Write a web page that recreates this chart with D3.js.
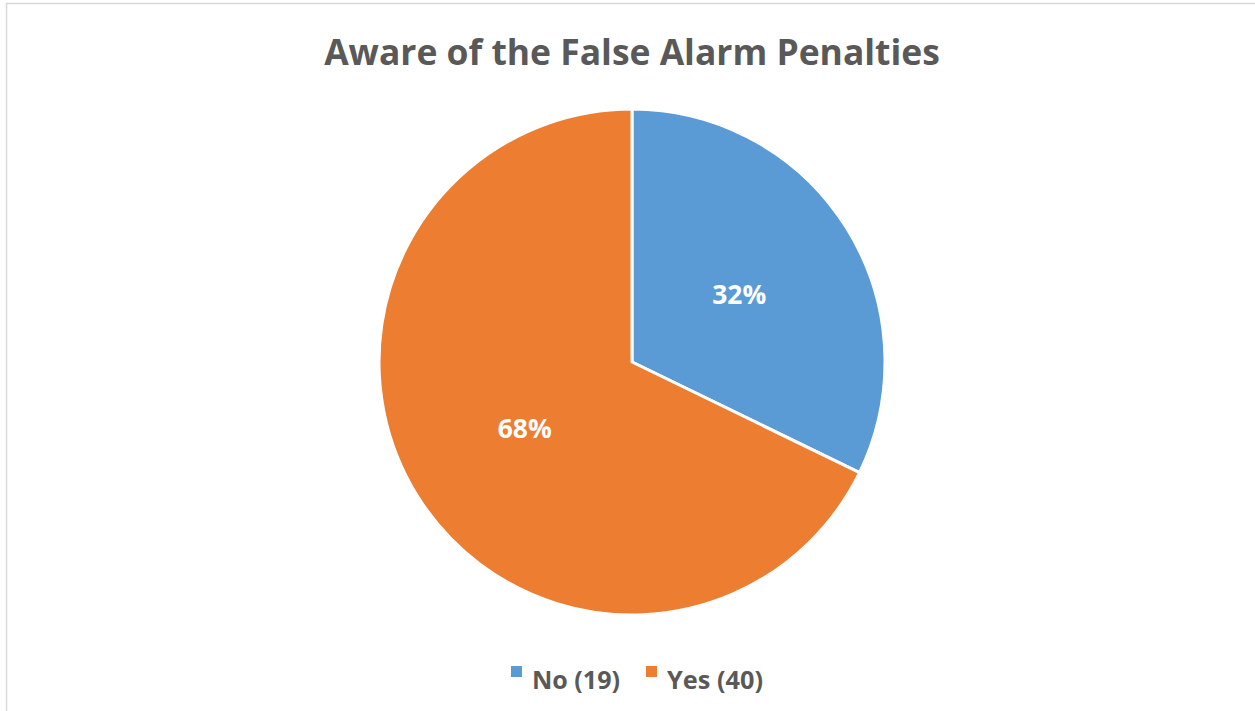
<!DOCTYPE html>
<html>
<head>
<meta charset="utf-8">
<script src="https://cdn.jsdelivr.net/npm/d3@7"></script>
<style>
  body { margin: 0; background: #fff; }
  svg { display: block; }
</style>
</head>
<body>
<div id="chart"></div>
<script>
'use strict';

var titleText = 'Aware of the False Alarm Penalties';
var categories = ['No', 'Yes'];
var counts = [19, 40];
var colors = ['#5B9BD5', '#ED7D31'];

var chart = {};
chart.w = 1255;
chart.h = 711;
chart.cx = 632;
chart.cy = 362;
chart.r = 253;
chart.font = '"Open Sans", "Liberation Sans", sans-serif';

chart.fitText = function (sel, targetWidth) {
    var w = sel.node().getComputedTextLength();
    var fs = parseFloat(sel.attr('font-size'));
    sel.attr('font-size', fs * targetWidth / w);
};

var svg = d3.select('#chart').append('svg')
    .attr('width', chart.w)
    .attr('height', chart.h);

// chart area border (runs off the right and bottom edge)
svg.append('rect')
    .attr('x', 6.5)
    .attr('y', 3.5)
    .attr('width', chart.w + 10)
    .attr('height', chart.h + 10)
    .attr('fill', '#fff')
    .attr('stroke', '#d9d9d9')
    .attr('stroke-width', 1.5);

var title = svg.append('text')
    .attr('x', 632)
    .attr('y', 65)
    .attr('text-anchor', 'middle')
    .attr('font-family', chart.font)
    .attr('font-weight', 'bold')
    .attr('font-size', 32)
    .attr('fill', '#595959')
    .text(titleText);
chart.fitText(title, 616);

var data = categories.map(function (c, i) {
    return { name: c, value: counts[i], color: colors[i] };
});
var total = d3.sum(counts);

var pie = d3.pie().sort(null).value(function (d) { return d.value; });
var arc = d3.arc().innerRadius(0).outerRadius(chart.r);
var labelArc = d3.arc().innerRadius(chart.r * 0.5).outerRadius(chart.r * 0.5);

var g = svg.append('g')
    .attr('transform', 'translate(' + chart.cx + ',' + chart.cy + ')');

var arcs = pie(data);

g.selectAll('path')
    .data(arcs)
    .enter()
    .append('path')
    .attr('d', arc)
    .attr('fill', function (d) { return d.data.color; })
    .attr('stroke', '#fff')
    .attr('stroke-width', 3)
    .attr('stroke-linejoin', 'round');

g.selectAll('.lbl')
    .data(arcs)
    .enter()
    .append('text')
    .attr('class', 'lbl')
    .attr('transform', function (d) { return 'translate(' + labelArc.centroid(d) + ')'; })
    .attr('text-anchor', 'middle')
    .attr('dy', '0.35em')
    .attr('font-family', chart.font)
    .attr('font-weight', 'bold')
    .attr('font-size', 23)
    .attr('fill', '#fff')
    .text(function (d) { return Math.round(d.data.value / total * 100) + '%'; })
    .each(function () { chart.fitText(d3.select(this), 54); });

// legend
var legend = svg.append('g').attr('class', 'legend');
var legX = [511, 646];
var legW = [88, 96];
data.forEach(function (d, i) {
    legend.append('rect')
        .attr('x', legX[i])
        .attr('y', 666)
        .attr('width', 11)
        .attr('height', 11)
        .attr('fill', d.color);
    var t = legend.append('text')
        .attr('x', legX[i] + 21)
        .attr('y', 680)
        .attr('dy', '0.35em')
        .attr('font-family', chart.font)
        .attr('font-weight', 'bold')
        .attr('font-size', 22)
        .attr('fill', '#595959')
        .text(d.name + ' (' + d.value + ')');
    chart.fitText(t, legW[i]);
});
</script>
</body>
</html>
